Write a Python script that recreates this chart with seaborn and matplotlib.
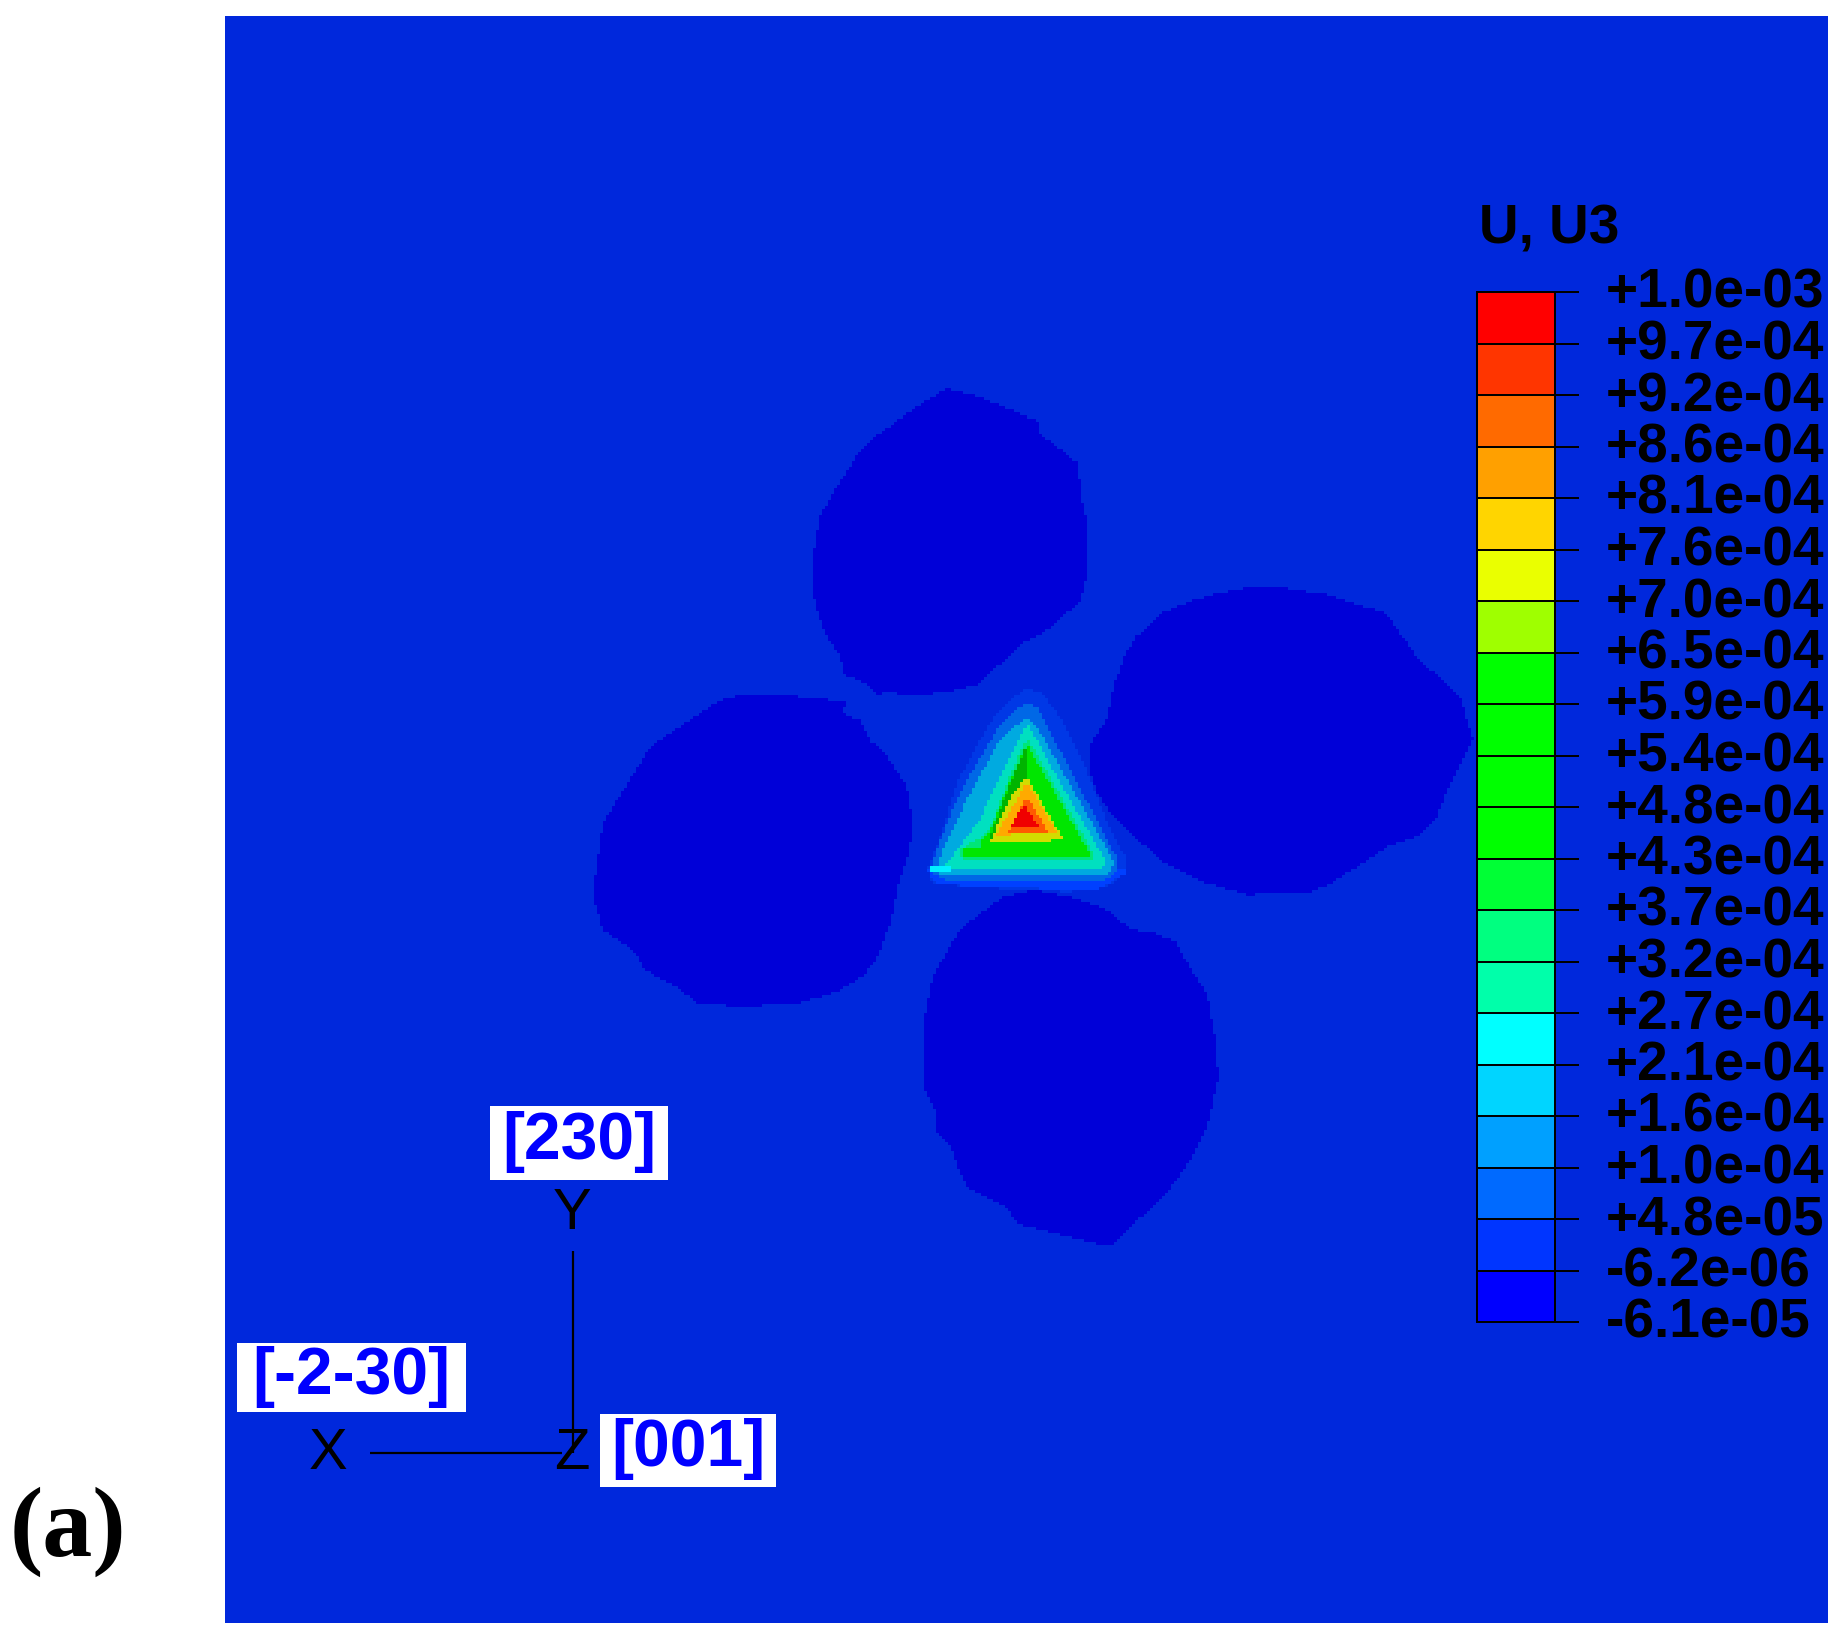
import numpy as np
import matplotlib
matplotlib.use("Agg")
import matplotlib.pyplot as plt
import seaborn as sns
from matplotlib.colors import ListedColormap
from matplotlib.path import Path
from matplotlib.transforms import ScaledTranslation

# ---- data (outlines, in picture pixels) ----
legend_title = "U, U3"
legend_labels = ["+1.0e-03", "+9.7e-04", "+9.2e-04", "+8.6e-04", "+8.1e-04", "+7.6e-04", "+7.0e-04",
                 "+6.5e-04", "+5.9e-04", "+5.4e-04", "+4.8e-04", "+4.3e-04", "+3.7e-04", "+3.2e-04",
                 "+2.7e-04", "+2.1e-04", "+1.6e-04", "+1.0e-04", "+4.8e-05", "-6.2e-06", "-6.1e-05"]
legend_colors = ["#ff0000", "#ff3500", "#ff6a00", "#ffa000", "#ffd500", "#eaff00", "#9fff00",
                 "#00ff00", "#00ff00", "#00ff00", "#00ff00", "#00ff35", "#00ff80", "#00ffaa",
                 "#00ffff", "#00d5ff", "#00a0ff", "#006aff", "#0035ff", "#0000ff"]

background_color = "#0028dc"

grain_top = [(947,389),(980,397),(1037,421),(1038,432),(1078,463),(1080,492),(1088,530),(1085,580),(1080,600),
             (1050,628),(1025,642),(977,685),(948,692),(913,695),(887,692),(878,695),(867,683),(845,675),
             (840,655),(825,633),(815,600),(813,560),(820,517),(833,493),(862,448),(880,433),(923,403)]
grain_left = [(737,696),(795,696),(827,699),(847,702),(843,713),(860,720),(870,740),(883,750),(907,785),(913,820),
              (910,850),(898,887),(892,920),(878,957),(865,975),(837,992),(800,1003),(747,1007),(698,1004),
              (677,987),(645,970),(635,952),(603,930),(595,903),(595,880),(603,823),(613,807),(652,745),
              (687,722),(720,700)]
grain_right = [(1243,588),(1287,588),(1330,595),(1357,605),(1385,612),(1417,657),(1460,697),(1473,740),(1447,790),
               (1435,820),(1417,837),(1390,845),(1333,882),(1312,892),(1247,895),(1203,882),(1160,860),
               (1113,817),(1095,790),(1089,767),(1091,743),(1107,717),(1113,687),(1123,658),(1135,637),
               (1163,612),(1193,600),(1217,593)]
grain_bottom = [(1033,890),(1073,898),(1103,908),(1132,930),(1153,933),(1175,942),(1187,963),(1207,995),(1215,1040),
                (1218,1077),(1208,1123),(1190,1160),(1167,1193),(1113,1243),(1103,1245),(1063,1235),(1017,1223),
                (1007,1208),(968,1188),(962,1177),(950,1145),(937,1132),(936,1110),(925,1090),(923,1030),
                (933,977),(960,930),(1003,897)]
grain_color = "#0000d8"

ring_1 = [(1027,689),(1040,692),(1053,707),(1067,730),(1083,763),(1107,823),(1125,857),(1127,870),(1107,887),
          (1067,892),(970,887),(933,883),(928,868),(940,840),(957,783),(990,723),(1013,697)]
ring_1b = [(928,868),(1127,868),(1125,873),(1097,890),(970,887),(933,882)]
ring_2 = [(1027,703),(1037,707),(1050,733),(1077,783),(1110,847),(1118,860),(1117,872),(1105,880),(945,880),
          (930,872),(937,850),(960,793),(997,730),(1020,707)]
ring_3 = [(1027,717),(1040,733),(1067,780),(1107,850),(1113,862),(1110,872),(1100,876),(945,876),(937,872),
          (943,850),(967,800),(1000,740),(1023,720)]
ring_4 = [(1027,723),(1060,783),(1103,857),(1107,863),(1100,870),(942,868),(952,857),(980,820),(1007,763)]
spot_c = [(930,867),(950,867),(950,873),(932,873)]
ring_5 = [(1027,738),(1057,790),(1093,853),(1093,860),(963,860),(960,850),(980,838),(990,830),(1010,777)]
green_main = [(1027,745),(1090,855),(1088,858),(962,858),(962,848),(980,848),(980,840),(990,832),(1012,778)]
green_dark = [(1027,745),(1027,835),(990,838),(1012,780)]
core_1 = [(1027,778),(1063,840),(990,843),(997,827),(1013,793)]
core_2 = [(1027,783),(1057,833),(997,835),(1007,817)]
core_3 = [(1027,797),(1048,832),(1008,832),(1017,817)]
core_4 = [(1025,806),(1038,826),(1012,826),(1019,812)]

field_layers = [(grain_top, grain_color), (grain_left, grain_color), (grain_right, grain_color),
                (grain_bottom, grain_color),
                (ring_1, "#0038e6"), (ring_1b, "#0040ff"), (ring_2, "#0068e6"), (ring_3, "#00aae0"),
                (ring_4, "#00e0c0"), (spot_c, "#00f0ff"),
                (ring_5, "#00e678"), (green_main, "#00e600"), (green_dark, "#00b400"),
                (core_1, "#d2dc00"), (core_2, "#ffaa00"), (core_3, "#ff5a00"), (core_4, "#f00000")]

# ---- layout in pixels ----
W, H = 1837, 1637
PX = 72 / 100
PL, PR, PT, PB = 225, 1828, 16, 1623
CELL = 3.0

sns.set_style("white")
plt.rcParams["font.family"] = ["Liberation Sans", "DejaVu Sans"]

fig = plt.figure(figsize=(W / 100, H / 100), dpi=100, facecolor="white")


def axes_px(l, t, r, b):
    return fig.add_axes([l / W, 1 - b / H, (r - l) / W, (b - t) / H])


# ---- contour field ----
nx, ny = int((PR - PL) / CELL), int((PB - PT) / CELL)
xs = PL + (np.arange(nx) + 0.5) * (PR - PL) / nx
ys = PT + (np.arange(ny) + 0.5) * (PB - PT) / ny
gx, gy = np.meshgrid(xs, ys)
pts = np.column_stack([gx.ravel(), gy.ravel()])
field = np.zeros(nx * ny, dtype=float)
field_colors = [background_color]
for i, (poly, col) in enumerate(field_layers, start=1):
    field[Path(poly + [poly[0]]).contains_points(pts)] = i
    field_colors.append(col)
field = field.reshape(ny, nx)

ax = axes_px(PL, PT, PR, PB)
sns.heatmap(field, ax=ax, cmap=ListedColormap(field_colors), vmin=-0.5, vmax=len(field_colors) - 0.5,
            cbar=False, xticklabels=False, yticklabels=False, linewidths=0)

# ---- legend ----
CB_L, CB_R, CB_T, CB_B = 1477, 1555, 292, 1322
cax = axes_px(CB_L, CB_T, CB_R, CB_B)
bands = np.arange(len(legend_colors))[:, None]
sns.heatmap(bands, ax=cax, cmap=ListedColormap(legend_colors), vmin=-0.5, vmax=len(legend_colors) - 0.5,
            cbar=False, xticklabels=False, linewidths=2 * PX, linecolor="black")
for s in cax.spines.values():
    s.set_visible(True)
    s.set_color("black")
    s.set_linewidth(2 * PX)
cax.set_yticks(np.arange(len(legend_labels)))
cax.set_yticklabels(legend_labels, rotation=0, fontsize=55 * PX, fontweight="bold", color="black", ha="left")
cax.tick_params(axis="y", left=False, labelleft=False, right=True, labelright=True, length=24 * PX,
                width=2 * PX, color="black", pad=27 * PX)
off = ScaledTranslation(0, 4 / 100, fig.dpi_scale_trans)
for t in cax.get_yticklabels():
    t.set_transform(t.get_transform() + off)

# ---- overlay: triad, labels ----
ov = axes_px(0, 0, W, H)
ov.set_xlim(0, W)
ov.set_ylim(H, 0)
ov.axis("off")
ov.patch.set_alpha(0)

ov.text(1479, 230, legend_title, fontsize=55 * PX, fontweight="bold", ha="left", va="center", color="black")

ov.plot([573, 573], [1251, 1453], color="black", lw=2.2 * PX, solid_capstyle="butt")
ov.plot([370, 562], [1453, 1453], color="black", lw=2.2 * PX, solid_capstyle="butt")

for s, x, y in [("Y", 572, 1214), ("X", 328, 1454), ("Z", 572, 1454)]:
    ov.text(x, y, s, fontsize=58 * PX, ha="center", va="center", color="black")

for s, l, t, r, b in [("[230]", 490, 1106, 668, 1180), ("[-2-30]", 237, 1343, 466, 1412),
                      ("[001]", 600, 1414, 776, 1487)]:
    ov.fill([l, r, r, l], [t, t, b, b], color="white", lw=0)
    ov.text((l + r) / 2, (t + b) / 2 - 1, s, fontsize=66 * PX, fontweight="bold", ha="center",
            va="center", color="#0000ff")

ov.text(68, 1532, "(a)", fontsize=100 * PX, fontweight="bold", family="Liberation Serif", ha="center",
        va="center", color="black")

fig.savefig("out.png", dpi=100, facecolor="white")
